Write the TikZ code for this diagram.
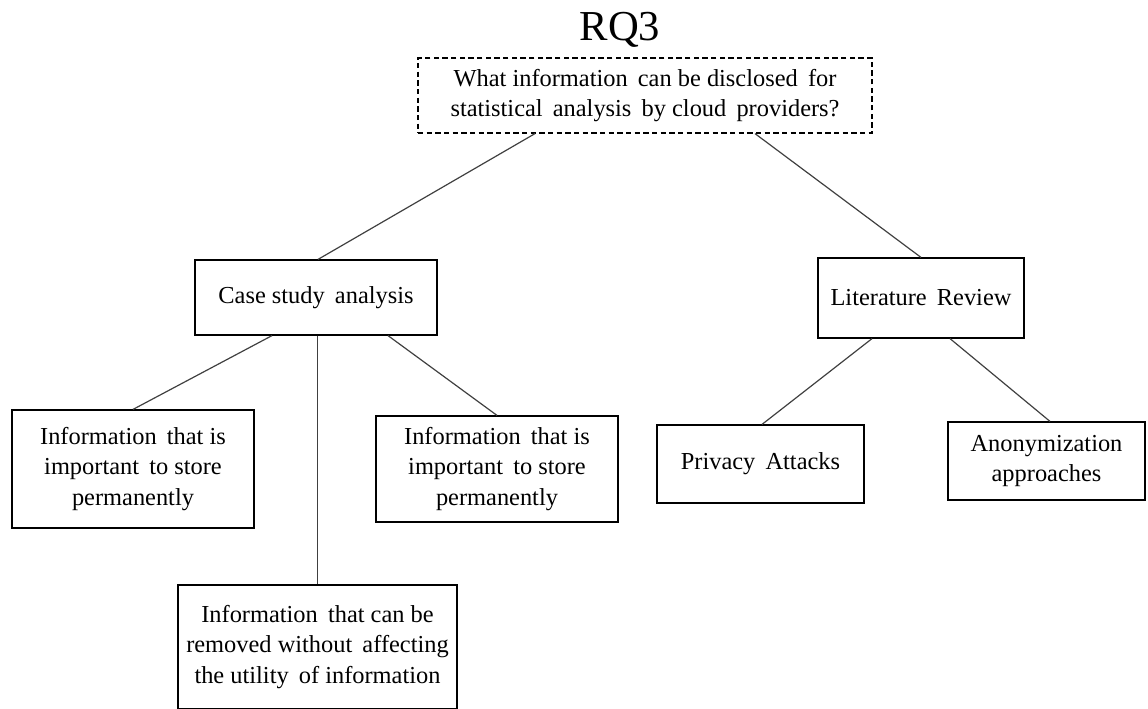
\documentclass[tikz,border=0pt]{standalone}
\usepackage{fontspec}
\setmainfont{Liberation Serif}
\usetikzlibrary{calc}
\begin{document}
\begin{tikzpicture}[x=0.75pt,y=-0.75pt,
  box/.style={draw=black,line width=0.9pt,align=center,inner sep=0pt,
    font=\fontsize{18.3}{23}\selectfont},
  conn/.style={draw=black!75,line width=0.9pt}]
\useasboundingbox (0,0) rectangle (1148,708);
\node[font=\fontsize{32}{36}\selectfont] (title) at (620,30) {RQ3};
\node[box,dash pattern=on 4pt off 2.5pt,minimum width=454*0.75pt,minimum height=75*0.75pt] (q) at (645,95.5)
  {What information\, can be disclosed\, for\\statistical\, analysis\, by cloud\, providers?};
\node[box,minimum width=242*0.75pt,minimum height=75*0.75pt] (case) at (316,297.5) {Case study\, analysis};
\node[box,minimum width=206*0.75pt,minimum height=80*0.75pt] (lit) at (921,298) {Literature\, Review};
\node[box,minimum width=242*0.75pt,minimum height=118*0.75pt] (left) at (133,469)
  {Information\, that is\\important\, to store\\permanently};
\node[box,minimum width=242*0.75pt,minimum height=106*0.75pt] (mr) at (497,469)
  {Information\, that is\\important\, to store\\permanently};
\node[box,minimum width=279*0.75pt,minimum height=124*0.75pt] (bot) at (317.5,647)
  {Information\, that can be\\removed without\, affecting\\the utility\, of information};
\node[box,minimum width=207*0.75pt,minimum height=78*0.75pt] (priv) at (760.5,464) {Privacy\, Attacks};
\node[box,minimum width=197*0.75pt,minimum height=78*0.75pt] (anon) at (1046.5,461) {Anonymization\\approaches};
\draw[conn] ($(q.south)+(-110,0)$) -- ($(case.north)+(2,0)$);
\draw[conn] ($(q.south)+(110,0)$) -- (lit.north);
\draw[conn] ($(case.south)+(-44,0)$) -- (left.north);
\draw[conn] (case.south -| bot.north) -- (bot.north);
\draw[conn] ($(case.south)+(72,0)$) -- (mr.north);
\draw[conn] ($(lit.south)+(-49,0)$) -- ($(priv.north)+(1.5,0)$);
\draw[conn] ($(lit.south)+(29,0)$) -- ($(anon.north)+(3.5,0)$);
\end{tikzpicture}
\end{document}
